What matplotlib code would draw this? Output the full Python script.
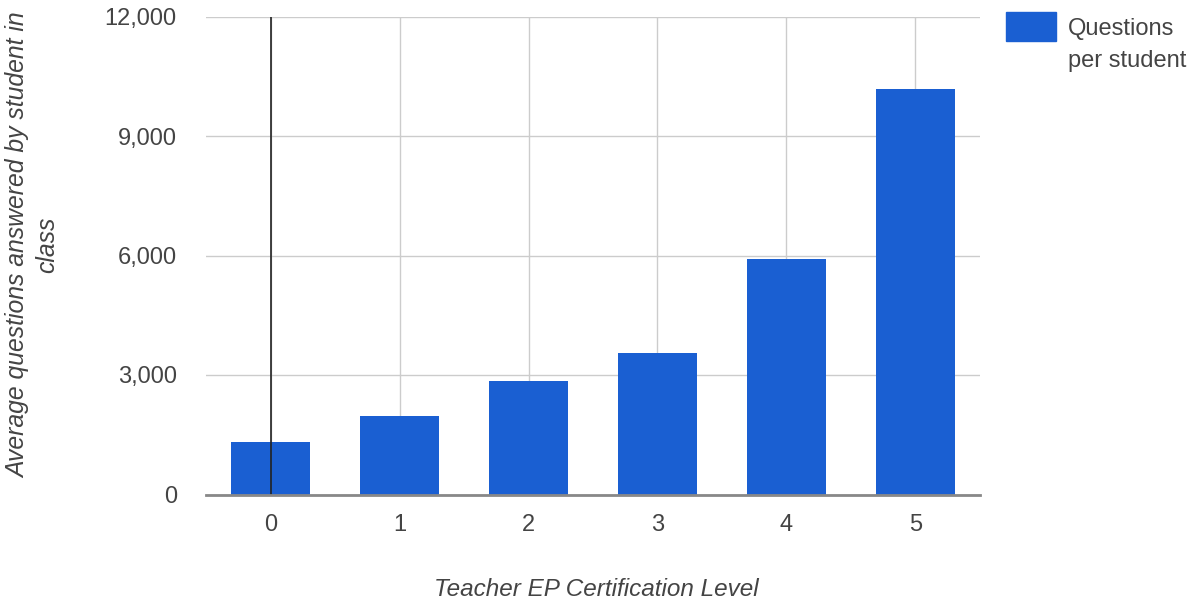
import matplotlib.pyplot as plt
from matplotlib.patches import Rectangle
from matplotlib.ticker import FuncFormatter

plt.rcParams.update({
    "font.family": ["Liberation Sans", "DejaVu Sans"],
    "font.size": 17,
})

levels = [0, 1, 2, 3, 4, 5]
questions = [1325, 1970, 2850, 3545, 5910, 10175]
yticks = [0, 3000, 6000, 9000, 12000]

blue = '#1a5fd2'
txt = '#444444'
W, H = 1195, 603

fig = plt.figure(figsize=(11.95, 6.03), dpi=100)
ax = fig.add_axes([206 / W, 1 - 494.5 / H, 774 / W, 478 / H])

ax.bar(levels, questions, width=0.61, color=blue, zorder=3)
ax.axvline(0, color='#222222', lw=1.2, zorder=4)

ax.set_xlim(-0.5, 5.5)
ax.set_ylim(0, 12000)
ax.set_xticks(levels)
ax.set_yticks(yticks)
ax.yaxis.set_major_formatter(FuncFormatter(lambda v, p: f'{int(v):,}'))
ax.grid(True, color='#cccccc', lw=1, zorder=0)
ax.tick_params(length=0, colors=txt, labelsize=17)
ax.tick_params(axis='x', pad=14)
ax.tick_params(axis='y', pad=21)
for s in ['top', 'right', 'left']:
    ax.spines[s].set_visible(False)
ax.spines['bottom'].set_color('#888888')
ax.spines['bottom'].set_linewidth(2)
ax.spines['bottom'].set_zorder(5)

fig.text(596 / W, 1 - 590 / H, 'Teacher EP Certification Level', style='italic',
         color=txt, fontsize=17.5, ha='center', va='center')
fig.text(33 / W, 1 - 245 / H, 'Average questions answered by student in\nclass',
         style='italic', color=txt, fontsize=17.8, rotation=90,
         ha='center', va='center', multialignment='center', linespacing=1.25)

# legend
fig.patches.append(Rectangle((1006 / W, 1 - 40.5 / H), 50 / W, 28 / H,
                             transform=fig.transFigure, color=blue))
fig.text(1068 / W, 1 - 45 / H, 'Questions\nper student', color=txt, fontsize=17,
         ha='left', va='center', linespacing=1.55)

plt.savefig('out.png')
plt.close()
